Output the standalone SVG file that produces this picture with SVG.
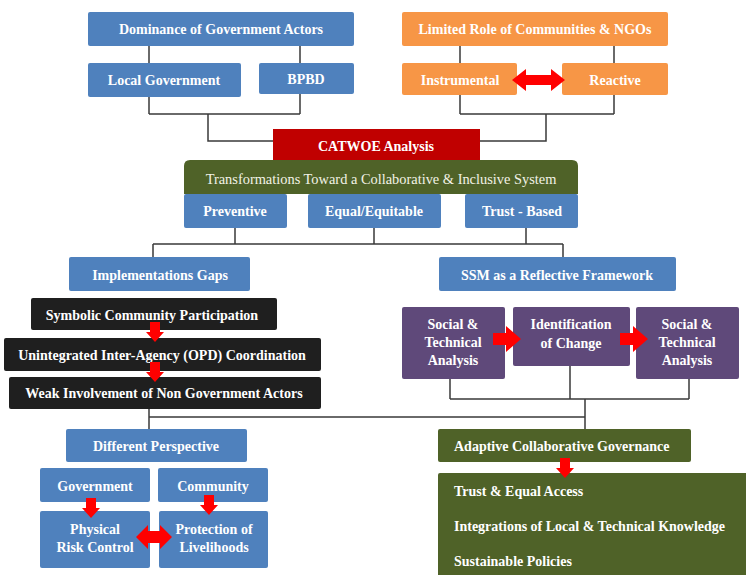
<svg xmlns="http://www.w3.org/2000/svg" width="746" height="575" viewBox="0 0 746 575">
<style>
.blue{fill:#4f81bd}
.orange{fill:#f79646}
.red{fill:#c00000}
.green{fill:#4f6228}
.purple{fill:#5f497a}
.black{fill:#1f1f1f}
.t{font-family:"Liberation Serif","Times New Roman",serif;font-size:14px;font-weight:bold;fill:#ffffff;text-anchor:middle;dominant-baseline:central}
.tl{text-anchor:start}
.tn{font-weight:normal;fill:#f2f2e6;font-size:14.4px}
.ln{fill:none;stroke:#3a3a3a;stroke-width:1.5}
.arr{fill:#ff0000}
</style>
<defs>
<path id="down" d="M-5,0 H5 V10 H9 L0,20 L-9,10 H-5 Z"/>
<path id="right" d="M0,-6 H13 V-13 L28,0 L13,13 V6 H0 Z"/>
</defs>
<g id="connectors">
<path class="ln" d="M149,46 V63 M300,46 V63 M149,97 V114 M300,94 V114 M149,114 H300 M208,114 V141 H273"/>
<path class="ln" d="M460,46 V63 M614,46 V63 M460,95 V114 M614,95 V114 M460,114 H614 M546,114 V141 H480"/>
<path class="ln" d="M235,228 V244 M374,228 V244 M526,228 V244 M153,244 H563 M153,244 V257 M563,244 V257"/>
<path class="ln" d="M149,409 V429 M149,417 H585 M585,399 V429 M450,379 V399 M570,366 V399 M689,379 V399 M450,399 H689"/>
</g>
<g id="dominance"><rect class="blue" x="88" y="12" width="266" height="34" rx="2"/><text class="t" x="221" y="29">Dominance of Government Actors</text></g>
<g id="local-government"><rect class="blue" x="88" y="63" width="153" height="34" rx="2"/><text class="t" x="164" y="80">Local Government</text></g>
<g id="bpbd"><rect class="blue" x="259" y="63" width="95" height="31" rx="2"/><text class="t" x="306" y="79">BPBD</text></g>
<g id="limited-role"><rect class="orange" x="402" y="12" width="266" height="34" rx="2"/><text class="t" x="535" y="29">Limited Role of Communities &amp; NGOs</text></g>
<g id="instrumental"><rect class="orange" x="402" y="63" width="115" height="32" rx="2"/><text class="t" x="460" y="80">Instrumental</text></g>
<g id="reactive"><rect class="orange" x="562" y="63" width="106" height="32" rx="2"/><text class="t" x="615" y="80">Reactive</text></g>
<path class="arr" d="M512,80 L526,69 V75 H551 V69 L565,80 L551,91 V85 H526 V91 Z"/>
<g id="catwoe"><rect class="red" x="273" y="129" width="207" height="31"/><text class="t" x="376" y="146">CATWOE Analysis</text></g>
<g id="transformations"><path class="green" d="M184,194 V166 Q184,160 190,160 H572 Q578,160 578,166 V194 Z"/><text class="t tn" x="381" y="179">Transformations Toward a Collaborative &amp; Inclusive System</text></g>
<g id="preventive"><rect class="blue" x="184" y="194" width="103" height="34" rx="2"/><text class="t" x="235" y="211">Preventive</text></g>
<g id="equal"><rect class="blue" x="308" y="194" width="133" height="34" rx="2"/><text class="t" x="374" y="211">Equal/Equitable</text></g>
<g id="trust"><rect class="blue" x="465" y="194" width="113" height="34" rx="2"/><text class="t" x="522" y="211">Trust - Based</text></g>
<g id="implementation-gaps"><rect class="blue" x="69" y="257" width="181" height="34" rx="2"/><text class="t" x="160" y="275">Implementations Gaps</text></g>
<g id="ssm"><rect class="blue" x="439" y="257" width="237" height="34" rx="2"/><text class="t" x="557" y="275">SSM as a Reflective Framework</text></g>
<g id="symbolic"><rect class="black" x="31" y="298" width="246" height="32" rx="2"/><text class="t" x="152" y="315">Symbolic Community Participation</text></g>
<g id="unintegrated"><rect class="black" x="4" y="338" width="317" height="33" rx="2"/><text class="t" x="162" y="355">Unintegrated Inter-Agency (OPD) Coordination</text></g>
<g id="weak"><rect class="black" x="9" y="377" width="312" height="32" rx="2"/><text class="t" x="164" y="393">Weak Involvement of Non Government Actors</text></g>
<use href="#down" class="arr" x="155" y="322"/>
<use href="#down" class="arr" x="155" y="362"/>
<g id="social-technical-1"><rect class="purple" x="402" y="307" width="103" height="72" rx="2"/><text class="t" x="453" y="324">Social &amp;</text><text class="t" x="453" y="342">Technical</text><text class="t" x="453" y="360">Analysis</text></g>
<g id="identification"><rect class="purple" x="513" y="307" width="117" height="59" rx="2"/><text class="t" x="571" y="324">Identification</text><text class="t" x="571" y="343">of Change</text></g>
<g id="social-technical-2"><rect class="purple" x="636" y="307" width="103" height="72" rx="2"/><text class="t" x="687" y="324">Social &amp;</text><text class="t" x="687" y="342">Technical</text><text class="t" x="687" y="360">Analysis</text></g>
<use href="#right" class="arr" x="493" y="339"/>
<use href="#right" class="arr" x="620" y="339"/>
<g id="different-perspective"><rect class="blue" x="66" y="429" width="181" height="33" rx="2"/><text class="t" x="156" y="446">Different Perspective</text></g>
<g id="government"><rect class="blue" x="40" y="468" width="110" height="34" rx="2"/><text class="t" x="95" y="486">Government</text></g>
<g id="community"><rect class="blue" x="158" y="468" width="110" height="34" rx="2"/><text class="t" x="213" y="486">Community</text></g>
<g id="physical-risk"><rect class="blue" x="40" y="511" width="110" height="57" rx="2"/><text class="t" x="95" y="529">Physical</text><text class="t" x="95" y="547">Risk Control</text></g>
<g id="protection"><rect class="blue" x="159" y="511" width="109" height="57" rx="2"/><text class="t" x="214" y="529">Protection of</text><text class="t" x="214" y="547">Livelihoods</text></g>
<use href="#down" class="arr" x="91" y="498"/>
<use href="#down" class="arr" x="209" y="495"/>
<path class="arr" d="M136,537 L148,525 V531 H160 V525 L172,537 L160,549 V543 H148 V549 Z"/>
<g id="adaptive"><rect class="green" x="438" y="429" width="253" height="33" rx="2"/><text class="t tl" x="454" y="446">Adaptive Collaborative Governance</text></g>
<g id="outcomes"><rect class="green" x="438" y="473" width="312" height="106" rx="2"/><text class="t tl" x="454" y="491">Trust &amp; Equal Access</text><text class="t tl" x="454" y="526">Integrations of Local &amp; Technical Knowledge</text><text class="t tl" x="454" y="561">Sustainable Policies</text></g>
<use href="#down" class="arr" x="565" y="458"/>
</svg>
